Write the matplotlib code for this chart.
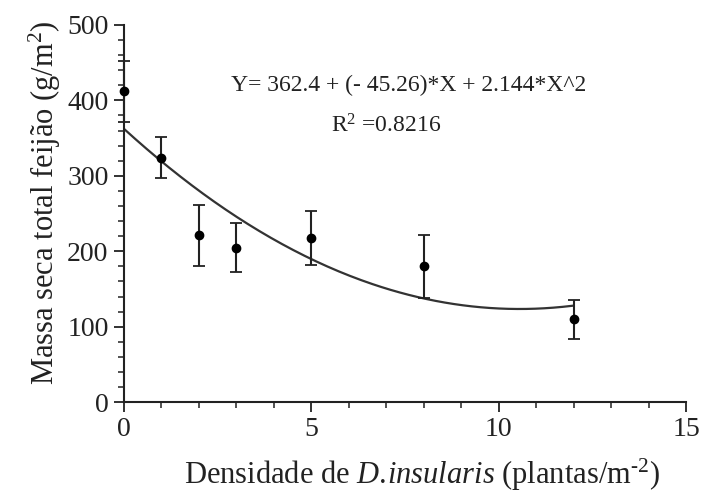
import matplotlib
matplotlib.use("Agg")
import matplotlib.pyplot as plt
import numpy as np
from matplotlib.ticker import MultipleLocator

plt.rcParams['font.family'] = ['Liberation Serif', 'DejaVu Serif']
plt.rcParams['mathtext.fontset'] = 'custom'
plt.rcParams['mathtext.rm'] = 'Liberation Serif'
plt.rcParams['mathtext.it'] = 'Liberation Serif:italic'
plt.rcParams['mathtext.bf'] = 'Liberation Serif:bold'

# Data
density = [0, 1, 2, 3, 5, 8, 12]
mass = [412, 324, 221, 205, 218, 180, 110]
err = [40, 27, 41, 33, 36, 42, 26]

# Regression coefficients
b0, b1, b2 = 362.4, -45.26, 2.144
eq_text = "Y= 362.4 + (- 45.26)*X + 2.144*X^2"
r2_text = r"R$^{2}$ =0.8216"

fig = plt.figure(figsize=(7.08, 4.99), dpi=100)
ax = fig.add_axes([0.175, 0.194, 0.794, 0.756])

xs = np.linspace(0, 12, 200)
ax.plot(xs, b0 + b1 * xs + b2 * xs ** 2, color='#333333', lw=1.6, zorder=2)
ax.errorbar(density, mass, yerr=err, fmt='o', color='black', ms=6,
            ecolor='#222222', elinewidth=1.5, capsize=4, capthick=1.3,
            clip_on=False, zorder=3)

ax.set_xlim(0, 15)
ax.set_ylim(0, 500)
ax.xaxis.set_major_locator(MultipleLocator(5))
ax.xaxis.set_minor_locator(MultipleLocator(1))
ax.yaxis.set_major_locator(MultipleLocator(100))
ax.yaxis.set_minor_locator(MultipleLocator(20))
for s in ['top', 'right']:
    ax.spines[s].set_visible(False)
for s in ['left', 'bottom']:
    ax.spines[s].set_linewidth(1.5)
    ax.spines[s].set_color('#222222')
ax.tick_params(which='major', direction='out', length=7, width=1.3, labelsize=20, pad=4, colors='#222222')
ax.tick_params(which='minor', direction='out', length=4, width=1.1, colors='#222222')

ax.set_ylabel("Massa seca total feijão (g/m$^{2}$)", fontsize=22, labelpad=3, color='#222222')
ax.yaxis.label.set_y(0.53)
ax.set_xlabel("Densidade de $\\mathit{D.}\\!\\mathit{insularis}$ (plantas/m$^{\u20102}$)",
              fontsize=22, labelpad=10, color='#222222')
ax.xaxis.label.set_x(0.53)

ax.text(7.6, 420, eq_text, ha='center', va='center', fontsize=17, color='#222222')
ax.text(7.0, 366, r2_text, ha='center', va='center', fontsize=17, color='#222222')

fig.savefig("out.png", dpi=100)
